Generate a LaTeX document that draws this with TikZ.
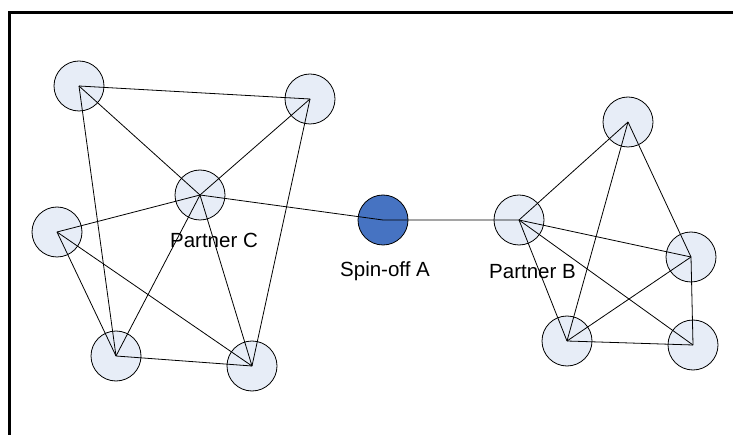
\documentclass[tikz,border=0pt]{standalone}
\usepackage{fontspec}
\setmainfont{Liberation Sans}
\begin{document}
\begin{tikzpicture}[x=1pt,y=-1pt,
  partner/.style={circle,draw=black,line width=0.8pt,fill=partnerfill,minimum size=50pt,inner sep=0pt},
  spinoff/.style={partner,fill=spinfill},
  link/.style={draw=black,line width=0.8pt},
  caption/.style={font=\fontsize{20.5}{24}\selectfont,inner sep=0pt,anchor=center}]
\definecolor{partnerfill}{HTML}{E7EDF7}
\definecolor{spinfill}{HTML}{4673C2}
\useasboundingbox (0,0) rectangle (733,435);
% frame (open to the right and bottom)
\draw[line width=3pt] (9.5,436) -- (9.5,13) -- (734,13);

% cluster around Partner C
\node[partner] (c1) at (79,86) {};
\node[partner] (c2) at (310,99) {};
\node[partner] (pc) at (200,195) {};
\node[partner] (c3) at (57,232) {};
\node[partner] (c4) at (116,356) {};
\node[partner] (c5) at (252,366) {};

% spin-off
\node[spinoff] (sa) at (383,220) {};

% cluster around Partner B
\node[partner] (pb) at (519,220) {};
\node[partner] (b1) at (628,122) {};
\node[partner] (b2) at (691,257) {};
\node[partner] (b3) at (567,341) {};
\node[partner] (b4) at (693,345) {};

% labels
\node[caption] (lc) at (214,240.5) {Partner C};
\node[caption] (la) at (385,271.5) {Spin-off A};
\node[caption] (lb) at (532.5,271.5) {Partner B};

% links of cluster C
\foreach \a/\b in {c1/c2,c1/pc,c1/c4,c2/pc,c2/c5,pc/c3,pc/c4,pc/c5,c3/c4,c3/c5,c4/c5}
  \draw[link] (\a.center) -- (\b.center);
% links through the spin-off
\draw[link] (pc.center) -- (sa.center) -- (pb.center);
% links of cluster B
\foreach \a/\b in {pb/b1,pb/b2,pb/b3,pb/b4,b1/b3,b1/b2,b2/b3,b2/b4,b3/b4}
  \draw[link] (\a.center) -- (\b.center);
\end{tikzpicture}
\end{document}
